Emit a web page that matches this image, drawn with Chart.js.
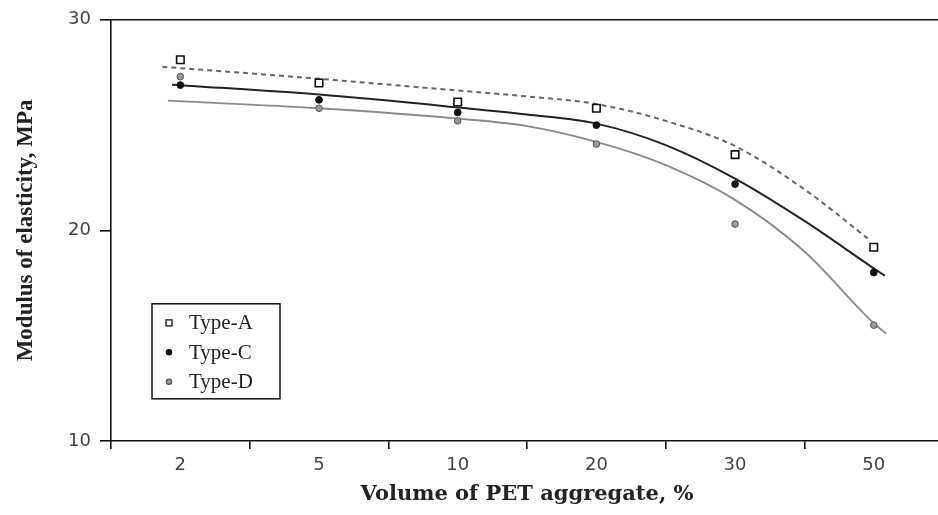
<!DOCTYPE html>
<html>
<head>
<meta charset="utf-8">
<script src="https://cdn.jsdelivr.net/npm/chart.js@4.4.0/dist/chart.umd.min.js"></script>
<style>
  html, body { margin: 0; padding: 0; overflow: hidden; background: #fff; }
  #wrap { width: 950px; height: 515px; }
</style>
</head>
<body>
<div id="wrap"><canvas id="myChart" width="950" height="515"></canvas></div>
<script>
// measured points
const categories = ['2', '5', '10', '20', '30', '50'];
const typeA = [28.1, 27.0, 26.1, 25.8, 23.6, 19.2];
const typeC = [26.9, 26.2, 25.6, 25.0, 22.2, 18.0];
const typeD = [27.3, 25.8, 25.2, 24.1, 20.3, 15.5];
const yTicks = [10, 20, 30];

// fitted curves (x = category index, fractional between categories)
const fitPosA = [-0.13, 1, 2, 2.5, 3, 3.5, 4, 4.5, 4.97];
const fitA = [27.77, 27.2, 26.64, 26.36, 26.0, 25.2, 24.0, 21.95, 19.55];
const fitPosC = [-0.06, 1, 2, 2.5, 3, 3.5, 4, 4.5, 5, 5.08];
const fitC = [26.92, 26.45, 25.84, 25.5, 25.07, 24.05, 22.46, 20.45, 18.2, 17.85];
const fitPosD = [-0.09, 1, 2, 2.5, 3, 3.5, 4, 4.5, 5, 5.09];
const fitD = [26.16, 25.8, 25.31, 24.95, 24.2, 23.1, 21.45, 19.0, 15.59, 15.1];

const pts = arr => arr.map((v, i) => ({ x: i, y: v }));
const curve = (pos, arr) => pos.map((p, i) => ({ x: p, y: arr[i] }));

const ink = '#111';

// top frame line + legend box inside the plot
const frameAndKey = {
  id: 'frameAndKey',
  afterDraw(chart) {
    const { ctx, chartArea: ca } = chart;
    ctx.save();
    ctx.strokeStyle = ink;
    ctx.lineWidth = 1.6;
    ctx.beginPath();
    ctx.moveTo(ca.left, ca.top);
    ctx.lineTo(ca.right, ca.top);
    ctx.stroke();

    const bx = ca.left + 41, by = ca.top + 284, bw = 128, bh = 95;
    ctx.lineWidth = 1.5;
    ctx.strokeRect(bx, by, bw, bh);

    const items = chart.data.datasets.filter(d => d.type === 'scatter');
    ctx.font = '21px "Liberation Serif"';
    ctx.textBaseline = 'middle';
    items.forEach((d, i) => {
      const y = by + 19 + i * 29.5;
      const x = bx + 17;
      ctx.fillStyle = d.backgroundColor;
      ctx.strokeStyle = d.borderColor;
      ctx.lineWidth = 1.3;
      ctx.beginPath();
      if (d.pointStyle === 'rect') {
        ctx.rect(x - 3, y - 3, 6, 6);
      } else {
        ctx.arc(x, y, 2.6, 0, Math.PI * 2);
      }
      ctx.fill();
      ctx.stroke();
      ctx.fillStyle = '#222';
      ctx.fillText(d.label, bx + 37, y + 1);
    });
    ctx.restore();
  }
};

const ctx = document.getElementById('myChart').getContext('2d');

new Chart(ctx, {
  data: {
    labels: categories,
    datasets: [
      {
        type: 'scatter', label: 'Type-A', xAxisID: 'xl', order: 0,
        data: pts(typeA), pointStyle: 'rect', pointRadius: 5.3,
        backgroundColor: '#fff', borderColor: ink, borderWidth: 1.6,
      },
      {
        type: 'scatter', label: 'Type-C', xAxisID: 'xl', order: 0,
        data: pts(typeC), pointStyle: 'circle', pointRadius: 3.4,
        backgroundColor: ink, borderColor: ink, borderWidth: 1,
      },
      {
        type: 'scatter', label: 'Type-D', xAxisID: 'xl', order: 0,
        data: pts(typeD), pointStyle: 'circle', pointRadius: 3.3,
        backgroundColor: '#9a9a9a', borderColor: '#555', borderWidth: 1,
      },
      {
        type: 'line', label: 'fit A', xAxisID: 'xl', order: 1,
        data: curve(fitPosA, fitA), borderColor: '#666', borderWidth: 2,
        borderDash: [5, 4], pointRadius: 0, cubicInterpolationMode: 'monotone', fill: false,
      },
      {
        type: 'line', label: 'fit C', xAxisID: 'xl', order: 1,
        data: curve(fitPosC, fitC), borderColor: '#222', borderWidth: 2,
        pointRadius: 0, cubicInterpolationMode: 'monotone', fill: false,
      },
      {
        type: 'line', label: 'fit D', xAxisID: 'xl', order: 1,
        data: curve(fitPosD, fitD), borderColor: '#8a8a8a', borderWidth: 1.8,
        pointRadius: 0, cubicInterpolationMode: 'monotone', fill: false,
      },
    ],
  },
  options: {
    responsive: false,
    animation: false,
    layout: { padding: { top: 19, right: 0, bottom: 0, left: 0 } },
    plugins: { legend: { display: false }, tooltip: { enabled: false } },
    scales: {
      x: {
        type: 'category',
        position: 'bottom',
        offset: true,
        afterFit: s => { s.height = 74; },
        grid: { offset: true, drawOnChartArea: false, tickLength: 8, color: ink, lineWidth: 1.6 },
        border: { color: ink, width: 1.6 },
        ticks: { padding: 6, color: '#444', font: { family: 'DejaVu Sans', size: 18 } },
        title: {
          display: true, text: 'Volume of PET aggregate, %', color: '#222',
          font: { family: 'DejaVu Serif', size: 21, weight: 'bold' },
          padding: { top: 0, bottom: 8 },
        },
      },
      xl: { type: 'linear', display: false, min: -0.5, max: 5.5 },
      y: {
        min: 10, max: 30,
        afterBuildTicks: s => { s.ticks = yTicks.map(v => ({ value: v })); },
        afterFit: s => { s.width = 111; },
        grid: { drawOnChartArea: false, tickLength: 11, color: ink, lineWidth: 1.6 },
        border: { color: ink, width: 1.6 },
        ticks: { padding: 9, color: '#444', font: { family: 'DejaVu Sans', size: 18 } },
        title: {
          display: true, text: 'Modulus of elasticity, MPa', color: '#222',
          font: { family: 'Liberation Serif', size: 23, weight: 'bold' },
          padding: { top: 12, bottom: 0 },
        },
      },
    },
  },
  plugins: [frameAndKey],
});
</script>
</body>
</html>
